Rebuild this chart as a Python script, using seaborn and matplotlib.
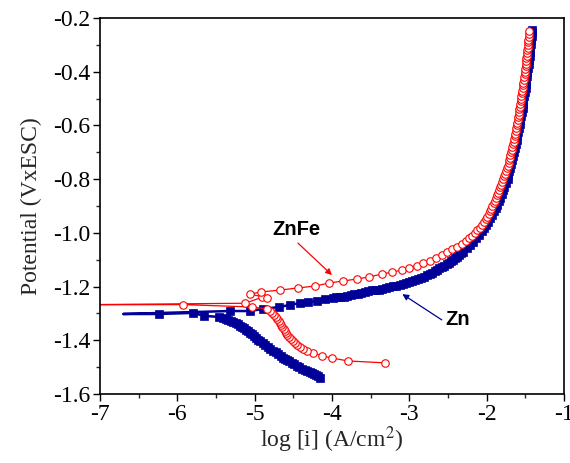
import matplotlib
matplotlib.use("Agg")
import pandas as pd
import seaborn as sns
import matplotlib.pyplot as plt
from matplotlib.ticker import MultipleLocator

# Zn curve, in sweep order (cathodic branch, Ecorr, anodic branch)
zn_logi = [-4.15, -4.18, -4.21, -4.235, -4.26, -4.29, -4.32, -4.355, -4.39, -4.42,
           -4.45, -4.485, -4.52, -4.55, -4.58, -4.605, -4.63, -4.665, -4.70, -4.73,
           -4.76, -4.795, -4.83, -4.86, -4.89, -4.925, -4.96, -4.985, -5.01, -5.035,
           -5.06, -5.085, -5.11, -5.135, -5.16, -5.185, -5.21, -5.245, -5.28, -5.31,
           -5.34, -5.375, -5.41, -5.46, -5.65, -5.80, -6.24, -6.70,
           -5.32, -5.06, -4.89, -4.68, -4.54, -4.41, -4.31, -4.19, -4.09, -3.99,
           -3.945, -3.90, -3.85, -3.80, -3.755, -3.71, -3.665, -3.62, -3.575, -3.53,
           -3.485, -3.44, -3.395, -3.35, -3.305, -3.26, -3.215, -3.17, -3.125, -3.08,
           -3.04, -3.00, -2.96, -2.92, -2.885, -2.85, -2.81, -2.77, -2.735, -2.70,
           -2.67, -2.64, -2.61, -2.58, -2.545, -2.51, -2.485, -2.46, -2.435, -2.41,
           -2.385, -2.36, -2.33, -2.30, -2.25, -2.21, -2.17, -2.14, -2.10, -2.06,
           -2.03, -2.01, -1.98, -1.95, -1.93, -1.90, -1.88, -1.86, -1.84, -1.83,
           -1.80, -1.79, -1.77, -1.75, -1.73, -1.72, -1.71, -1.70, -1.68, -1.67,
           -1.66, -1.64, -1.63, -1.62, -1.61, -1.605, -1.59, -1.58, -1.57, -1.565,
           -1.55, -1.54, -1.535, -1.53, -1.525, -1.52, -1.50, -1.495, -1.49, -1.485,
           -1.48, -1.475, -1.46, -1.455, -1.45, -1.445, -1.44, -1.435, -1.43, -1.42,
           -1.415, -1.41, -1.41]
zn_e = [-1.540, -1.534, -1.529, -1.525, -1.522, -1.518, -1.514, -1.510, -1.507, -1.501,
        -1.496, -1.490, -1.484, -1.478, -1.473, -1.469, -1.466, -1.458, -1.451, -1.445,
        -1.440, -1.432, -1.425, -1.417, -1.410, -1.404, -1.399, -1.391, -1.384, -1.378,
        -1.373, -1.367, -1.362, -1.356, -1.350, -1.345, -1.339, -1.335, -1.332, -1.328,
        -1.324, -1.320, -1.317, -1.313, -1.309, -1.298, -1.302, -1.302,
        -1.291, -1.291, -1.283, -1.276, -1.268, -1.261, -1.257, -1.254, -1.246, -1.242,
        -1.240, -1.239, -1.237, -1.235, -1.232, -1.228, -1.226, -1.224, -1.220, -1.216,
        -1.2145, -1.213, -1.211, -1.209, -1.205, -1.201, -1.1995, -1.198, -1.194, -1.190,
        -1.1865, -1.183, -1.179, -1.175, -1.1715, -1.168, -1.1625, -1.157, -1.153, -1.149,
        -1.1435, -1.138, -1.1325, -1.127, -1.1215, -1.116, -1.1105, -1.105, -1.0995, -1.094,
        -1.088, -1.082, -1.0765, -1.071, -1.056, -1.045, -1.034, -1.019, -1.008, -0.993,
        -0.982, -0.971, -0.960, -0.945, -0.933, -0.919, -0.907, -0.896, -0.881, -0.870,
        -0.855, -0.840, -0.829, -0.814, -0.799, -0.785, -0.770, -0.758, -0.744, -0.729,
        -0.714, -0.699, -0.684, -0.669, -0.654, -0.639, -0.624, -0.610, -0.595, -0.580,
        -0.565, -0.550, -0.535, -0.520, -0.505, -0.490, -0.476, -0.461, -0.446, -0.431,
        -0.416, -0.401, -0.386, -0.371, -0.356, -0.341, -0.327, -0.312, -0.297, -0.282,
        -0.267, -0.252, -0.243]

# ZnFe curve, in sweep order
znfe_logi = [-3.31, -3.79, -4.00, -4.13, -4.24, -4.32, -4.37, -4.41, -4.45, -4.48,
             -4.51, -4.53, -4.56, -4.58, -4.60, -4.61, -4.625, -4.64, -4.655, -4.67,
             -4.69, -4.71, -4.73, -4.75, -4.77, -4.80, -4.84,
             -5.03, -5.93, -7.50, -5.12, -4.90, -4.84, -5.06, -4.92,
             -4.67, -4.44, -4.22, -4.04, -3.86, -3.68, -3.52, -3.35, -3.22, -3.09,
             -3.00, -2.90, -2.82, -2.73, -2.65, -2.58, -2.51, -2.45, -2.38, -2.32,
             -2.27, -2.23, -2.19, -2.15, -2.12, -2.09, -2.06, -2.03, -2.01, -1.99,
             -1.97, -1.95, -1.94, -1.925, -1.91, -1.895, -1.88, -1.865, -1.855, -1.84,
             -1.83, -1.815, -1.80, -1.79, -1.775, -1.76, -1.75, -1.735, -1.725, -1.715,
             -1.71, -1.70, -1.695, -1.685, -1.675, -1.67, -1.66, -1.65, -1.64, -1.635,
             -1.63, -1.625, -1.62, -1.61, -1.605, -1.60, -1.59, -1.585, -1.58, -1.575,
             -1.57, -1.565, -1.56, -1.555, -1.55, -1.545, -1.54, -1.535, -1.53, -1.525,
             -1.52, -1.515, -1.51, -1.505, -1.50, -1.495, -1.49, -1.49, -1.485, -1.48,
             -1.475, -1.475, -1.47, -1.465, -1.46, -1.46, -1.455, -1.45, -1.45]
znfe_e = [-1.484, -1.477, -1.466, -1.458, -1.447, -1.440, -1.432, -1.425, -1.417, -1.410,
          -1.402, -1.395, -1.387, -1.380, -1.372, -1.365, -1.357, -1.350, -1.342, -1.335,
          -1.327, -1.320, -1.312, -1.305, -1.297, -1.290, -1.283,
          -1.276, -1.267, -1.268, -1.262, -1.239, -1.242, -1.228, -1.220,
          -1.213, -1.205, -1.198, -1.187, -1.179, -1.172, -1.164, -1.153, -1.146, -1.138,
          -1.131, -1.123, -1.112, -1.105, -1.094, -1.082, -1.071, -1.060, -1.053, -1.041,
          -1.03, -1.02, -1.01, -1.00, -0.99, -0.98, -0.97, -0.96, -0.95, -0.94,
          -0.93, -0.92, -0.91, -0.90, -0.89, -0.88, -0.87, -0.86, -0.85, -0.84,
          -0.83, -0.82, -0.81, -0.80, -0.79, -0.78, -0.77, -0.76, -0.75, -0.74,
          -0.73, -0.72, -0.71, -0.70, -0.69, -0.68, -0.67, -0.66, -0.65, -0.64,
          -0.63, -0.62, -0.61, -0.60, -0.59, -0.58, -0.57, -0.56, -0.55, -0.54,
          -0.53, -0.52, -0.51, -0.50, -0.49, -0.48, -0.47, -0.46, -0.45, -0.44,
          -0.43, -0.42, -0.41, -0.40, -0.39, -0.38, -0.37, -0.36, -0.35, -0.34,
          -0.33, -0.32, -0.31, -0.30, -0.29, -0.28, -0.27, -0.26, -0.25]

labels = ["ZnFe", "Zn"]
zn_color = "#000099"
znfe_color = "#ff0000"

sns.set_style("ticks")
plt.rcParams['font.family'] = ['Liberation Serif', 'DejaVu Serif']
plt.rcParams['mathtext.fontset'] = 'stix'

zn = pd.DataFrame({"logi": zn_logi, "E": zn_e})
znfe = pd.DataFrame({"logi": znfe_logi, "E": znfe_e})

fig = plt.figure(figsize=(5.7, 4.63), dpi=100)
ax = fig.add_axes([0.1754, 0.149, 0.814, 0.812])

# the Ecorr end point of Zn has no marker drawn
no_mark = zn_logi.index(-6.70)
zn_marks = [i for i in range(len(zn_logi)) if i != no_mark]

sns.lineplot(data=zn, x="logi", y="E", ax=ax, sort=False, estimator=None,
             color=zn_color, lw=1.8, marker="s", markersize=6.2,
             mec=zn_color, mfc=zn_color, mew=0.5, markevery=zn_marks)
sns.lineplot(data=znfe, x="logi", y="E", ax=ax, sort=False, estimator=None,
             color=znfe_color, lw=0.9, marker="o", markersize=5.4,
             mec=znfe_color, mfc="white", mew=0.8)

ax.set_xlim(-7, -1)
ax.set_ylim(-1.6, -0.2)
ax.xaxis.set_major_locator(MultipleLocator(1))
ax.xaxis.set_minor_locator(MultipleLocator(0.5))
ax.yaxis.set_major_locator(MultipleLocator(0.2))
ax.yaxis.set_minor_locator(MultipleLocator(0.1))
ax.yaxis.set_major_formatter(plt.FuncFormatter(lambda v, p: f"{v:.1f}"))
ax.xaxis.set_major_formatter(plt.FuncFormatter(lambda v, p: f"{v:.0f}"))
ax.tick_params(which="major", direction="out", length=5, width=1, labelsize=17,
               colors="black", pad=2)
ax.tick_params(which="minor", direction="out", length=3, width=1)
for s in ax.spines.values():
    s.set_linewidth(1.2)
    s.set_color("black")

ax.set_xlabel("log [i] (A/cm$^2$)", fontsize=17, labelpad=0)
ax.set_ylabel("Potential (VxESC)", fontsize=17, labelpad=8)

ann_font = dict(family=["Liberation Sans", "DejaVu Sans"], weight="bold", fontsize=14.5)
ax.text(-4.46, -0.989, labels[0], ha="center", va="center", color="black", **ann_font)
ax.text(-2.37, -1.321, labels[1], ha="center", va="center", color="black", **ann_font)
ax.annotate("", xy=(-4.00, -1.157), xytext=(-4.44, -1.038),
            arrowprops=dict(arrowstyle="-|>", color=znfe_color, lw=0.9,
                            mutation_scale=9, shrinkA=0, shrinkB=0))
ax.annotate("", xy=(-3.09, -1.228), xytext=(-2.58, -1.324),
            arrowprops=dict(arrowstyle="-|>", color=zn_color, lw=0.9,
                            mutation_scale=9, shrinkA=0, shrinkB=0))

fig.savefig("out.png", dpi=100)
